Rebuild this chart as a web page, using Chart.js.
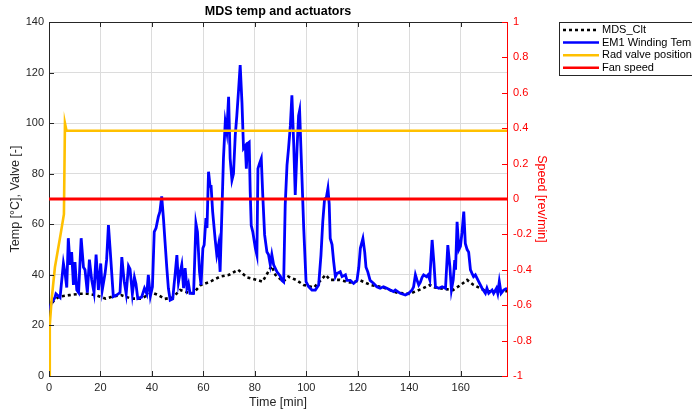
<!DOCTYPE html>
<html>
<head>
<meta charset="utf-8">
<title>MDS temp and actuators</title>
<script src="https://cdn.jsdelivr.net/npm/chart.js@4.4.1/dist/chart.umd.min.js"></script>
<style>
  body { margin: 0; background: #fff; }
  #chart { display: block; }
</style>
</head>
<body>
<canvas id="chart" width="692" height="413"></canvas>
<script>
// time [min] and values
const em1Time = [0, 1, 2.3, 2.7, 4.3, 5.6, 6.2, 6.9, 7.5, 8.2, 8.8, 9.5, 10.1, 10.8, 11.5, 12.5, 13.4, 14, 14.9, 15.7, 16.6, 17.5, 18.3, 19.2, 20.1, 20.7, 21.8, 22.4, 23.1, 23.7, 25, 26.3, 27.6, 28.3, 29.2, 30, 30.9, 31.5, 32.4, 33.2, 33.8, 34.5, 36, 37.1, 38, 38.6, 39.4, 40.2, 40.9, 41.6, 42.5, 43.1, 43.8, 44.5, 45.1, 45.8, 46.4, 47.1, 48.1, 48.6, 49, 49.7, 50.3, 51, 51.6, 52.3, 52.9, 53.6, 54.2, 54.8, 56.2, 57.1, 57.7, 58.5, 59.1, 59.8, 60.3, 61, 61.4, 62, 62.6, 63, 63.6, 64.6, 65.2, 65.9, 66.5, 67.2, 67.8, 68.5, 69.1, 69.8, 70.4, 71.1, 71.7, 72.4, 73, 73.7, 74.3, 75, 75.6, 76.3, 76.7, 77.2, 77.8, 78.2, 78.6, 79.2, 80.2, 80.8, 81.2, 81.8, 82.5, 83.1, 83.8, 84.7, 85.3, 86, 86.6, 87.3, 88.6, 89.9, 90.5, 91.2, 91.8, 92.5, 93.1, 93.8, 94.4, 95.1, 95.7, 96.4, 97, 97.4, 98, 99, 99.9, 100.9, 102.2, 103.5, 104.8, 105.7, 106.4, 107.1, 107.8, 108.4, 108.9, 109.3, 110, 110.6, 111.3, 111.9, 113.2, 113.9, 115.2, 115.8, 117.1, 118.4, 119.7, 120.4, 121, 122, 122.7, 123.2, 123.9, 124.8, 126.2, 127.4, 128.7, 130, 131.3, 132.6, 133.9, 134.6, 136.5, 138.5, 139.8, 141.1, 141.7, 142.4, 143, 143.7, 144.3, 145, 145.6, 146.7, 147.3, 148, 148.2, 148.9, 149.6, 150.2, 151.5, 152.8, 154.1, 155, 155.8, 156.4, 157.1, 157.7, 158, 158.6, 159.3, 159.9, 160.5, 161.2, 161.8, 162.5, 163.1, 163.8, 164.4, 165, 165.7, 167, 168.3, 169.6, 170.2, 170.9, 172.2, 172.8, 173.9, 174.4, 175, 175.7, 176.7, 178];
const em1Temp = [26, 29, 31, 32.5, 31, 44.6, 41, 35, 54.5, 44, 49, 36, 45, 34, 33, 54.5, 43, 42, 33, 46, 38, 33, 48, 34, 44.5, 34, 40.6, 46, 59.7, 51, 31.4, 32, 33, 47, 37.5, 32.5, 43.5, 42.3, 32.5, 39, 36.4, 30.6, 31.2, 34.7, 32.5, 40, 31.6, 35.3, 57, 58.5, 63, 65, 71, 62, 53, 42.6, 34.7, 30, 30.5, 36, 40, 47.8, 37, 41, 44, 34.7, 42.7, 34.7, 36.6, 32.7, 32.7, 60.4, 57, 41.2, 36, 50.5, 51.8, 62.4, 58.5, 80.8, 75, 75, 65, 53.8, 48, 52, 41.2, 65, 86, 100.4, 96.5, 110.4, 86, 77.5, 80, 95.4, 103, 113.5, 123, 108, 90, 91, 82, 92, 92.5, 72.9, 59.5, 57, 50.5, 47.8, 82, 84, 86, 71, 55.8, 49, 48, 44, 48, 44, 41.2, 39.5, 37.8, 37.2, 67.6, 83.4, 90, 99, 111, 92, 71.6, 90, 103, 105, 87.4, 58.4, 37.3, 35.3, 34, 34, 36, 47.8, 61, 70, 70.6, 74.2, 68, 54.4, 52, 45.5, 39.3, 40.5, 41.2, 39.3, 40, 37.8, 37.8, 36.6, 37.8, 43, 50.5, 54.4, 49, 43, 41.2, 37.8, 36.6, 35.3, 34.7, 35.3, 34.7, 34, 33.4, 34, 32.7, 32, 32.7, 34, 35.3, 40, 38, 36, 37, 39, 40, 39.3, 40, 38, 42, 53.8, 44.6, 35.3, 34.7, 35.3, 34.7, 51.8, 43.3, 34, 38, 45.8, 42, 61, 50, 51.3, 56.6, 65, 52.4, 50, 49, 42, 40.6, 39.3, 40, 37.3, 34.7, 32.7, 34.7, 32.7, 34, 32.7, 34.7, 32.7, 37.3, 32.7, 34, 34.7];

const mdsTime = [0, 2, 4, 8, 12, 15, 18, 22, 25, 28, 32, 36, 40, 42.5, 45, 48, 51, 54, 56, 59, 62.6, 66.5, 70, 73.5, 77, 80.8, 83, 86.5, 88, 91, 93, 96, 99, 103, 107.5, 109.3, 113, 117, 121, 125, 130, 135, 140, 145, 148, 150, 153, 157, 160, 162.5, 165, 170, 178];
const mdsTemp = [27, 30, 31.4, 32, 32.5, 32.5, 32, 30.6, 31.5, 32, 30.6, 30.6, 33, 32, 30.5, 31, 34, 33, 32.7, 36, 37.3, 39.3, 40, 42, 39, 38, 37.3, 43.5, 40, 37.3, 39.3, 38, 36, 35, 40, 38, 38, 37, 37.8, 36, 35, 33, 32.5, 34.5, 36, 35, 34.5, 34, 36, 38, 36, 33.5, 33.5];

const valveTime = [0, 0.3, 1, 2.3, 4.5, 5.8, 6.2, 6.8, 178];
const valvePos = [0, 20, 30, 43, 56, 64, 100, 97, 97];

const fanTime = [0, 178];
const fanSpeed = [0, 0];

const seriesNames = ['MDS_Clt', 'EM1 Winding Temp', 'Rad valve position', 'Fan speed'];
const seriesColors = ['#000000', '#0000ff', '#ffc000', '#ff0000'];

const xTicks = [0, 20, 40, 60, 80, 100, 120, 140, 160];
const leftTicks = [0, 20, 40, 60, 80, 100, 120, 140];
const rightTicks = [-1, -0.8, -0.6, -0.4, -0.2, 0, 0.2, 0.4, 0.6, 0.8, 1];

function toPoints(xs, ys) {
    return xs.map(function (x, i) { return { x: x, y: ys[i] }; });
}

const FONT = 'Liberation Sans, Arial, sans-serif';
const AXIS = '#262626';

// title, inward ticks, box top edge and legend
const decorations = {
    id: 'decorations',
    afterDraw: function (chart) {
        const ctx = chart.ctx;
        const a = chart.chartArea;
        const sx = chart.scales.x, sy = chart.scales.y, sr = chart.scales.y1;
        ctx.save();

        ctx.lineWidth = 1;
        ctx.strokeStyle = AXIS;
        ctx.beginPath();
        ctx.moveTo(a.left, a.top + 0.5);
        ctx.lineTo(a.right, a.top + 0.5);
        xTicks.forEach(function (v) {
            const px = Math.round(sx.getPixelForValue(v)) + 0.5;
            ctx.moveTo(px, a.bottom); ctx.lineTo(px, a.bottom - 5);
            ctx.moveTo(px, a.top); ctx.lineTo(px, a.top + 5);
        });
        leftTicks.forEach(function (v) {
            const py = Math.round(sy.getPixelForValue(v)) + 0.5;
            ctx.moveTo(a.left, py); ctx.lineTo(a.left + 5, py);
        });
        ctx.stroke();

        ctx.strokeStyle = '#ff0000';
        ctx.beginPath();
        rightTicks.forEach(function (v) {
            const py = Math.round(sr.getPixelForValue(v)) + 0.5;
            ctx.moveTo(a.right, py); ctx.lineTo(a.right - 5, py);
        });
        ctx.stroke();

        ctx.fillStyle = '#000';
        ctx.font = 'bold 12.5px ' + FONT;
        ctx.textAlign = 'center';
        ctx.textBaseline = 'middle';
        ctx.fillText('MDS temp and actuators', (a.left + a.right) / 2, 12);

        // legend
        const lx = 559.5, ly = 22.5, lw = 160, lh = 53;
        ctx.fillStyle = '#fff';
        ctx.fillRect(lx, ly, lw, lh);
        ctx.strokeStyle = AXIS;
        ctx.lineWidth = 1;
        ctx.strokeRect(lx, ly, lw, lh);
        ctx.font = '11px ' + FONT;
        ctx.textAlign = 'left';
        seriesNames.forEach(function (name, i) {
            const yy = 30 + i * 12.6;
            ctx.strokeStyle = seriesColors[i];
            ctx.lineWidth = 2.5;
            ctx.setLineDash(i === 0 ? [3, 3] : []);
            ctx.beginPath();
            ctx.moveTo(563, yy);
            ctx.lineTo(599, yy);
            ctx.stroke();
            ctx.setLineDash([]);
            ctx.fillStyle = '#000';
            ctx.fillText(name, 602, yy);
        });
        ctx.restore();
    }
};

const chartData = {
    datasets: [
        {
            label: seriesNames[0],
            data: toPoints(mdsTime, mdsTemp),
            borderColor: seriesColors[0],
            borderWidth: 2.6,
            borderDash: [3, 3],
            yAxisID: 'y',
            order: 4
        },
        {
            label: seriesNames[1],
            data: toPoints(em1Time, em1Temp),
            borderColor: seriesColors[1],
            borderWidth: 2.8,
            yAxisID: 'y',
            order: 3
        },
        {
            label: seriesNames[2],
            data: toPoints(valveTime, valvePos),
            borderColor: seriesColors[2],
            borderWidth: 2.6,
            yAxisID: 'y',
            order: 2
        },
        {
            label: seriesNames[3],
            data: toPoints(fanTime, fanSpeed),
            borderColor: seriesColors[3],
            borderWidth: 2.8,
            yAxisID: 'y1',
            order: 1
        }
    ]
};

const labelFont = { size: 12.5, family: FONT };
const tickFont = { size: 11, family: FONT };

const chartConfig = {
    type: 'line',
    data: chartData,
    options: {
        responsive: false,
        animation: false,
        devicePixelRatio: 1,
        layout: { padding: { top: 22, right: 140, left: 0, bottom: 0 } },
        elements: { point: { radius: 0 }, line: { tension: 0 } },
        plugins: {
            legend: { display: false },
            title: { display: false },
            tooltip: { enabled: false }
        },
        scales: {
            x: {
                type: 'linear',
                position: 'bottom',
                min: 0,
                max: 178,
                afterFit: function (s) { s.height = 37; },
                afterBuildTicks: function (s) { s.ticks = xTicks.map(function (v) { return { value: v }; }); },
                ticks: { font: tickFont, color: AXIS, padding: 5 },
                grid: { color: '#dcdcdc', drawTicks: false },
                border: { color: AXIS },
                title: { display: true, text: 'Time [min]', color: AXIS, font: labelFont, padding: { top: 0, bottom: 3 } }
            },
            y: {
                position: 'left',
                min: 0,
                max: 140,
                afterFit: function (s) { s.width = 49; },
                afterBuildTicks: function (s) { s.ticks = leftTicks.map(function (v) { return { value: v }; }); },
                ticks: { font: tickFont, color: AXIS, padding: 5 },
                grid: { color: '#dcdcdc', drawTicks: false },
                border: { color: AXIS },
                title: { display: true, text: 'Temp [°C], Valve [-]', color: AXIS, font: labelFont, padding: { top: 8, bottom: 0 } }
            },
            y1: {
                position: 'right',
                min: -1,
                max: 1,
                afterFit: function (s) { s.width = 45; },
                afterBuildTicks: function (s) { s.ticks = rightTicks.map(function (v) { return { value: v }; }); },
                ticks: {
                    font: tickFont,
                    color: '#ff0000',
                    padding: 6,
                    callback: function (v) { return String(Number(v.toFixed(1))); }
                },
                grid: { drawOnChartArea: false, drawTicks: false },
                border: { color: '#ff0000' },
                title: { display: true, text: 'Speed [rev/min]', color: '#ff0000', font: labelFont, padding: { top: 3, bottom: 0 } }
            }
        }
    },
    plugins: [decorations]
};

window.onload = function () {
    const ctx = document.getElementById('chart').getContext('2d');
    new Chart(ctx, chartConfig);
};
</script>
</body>
</html>
